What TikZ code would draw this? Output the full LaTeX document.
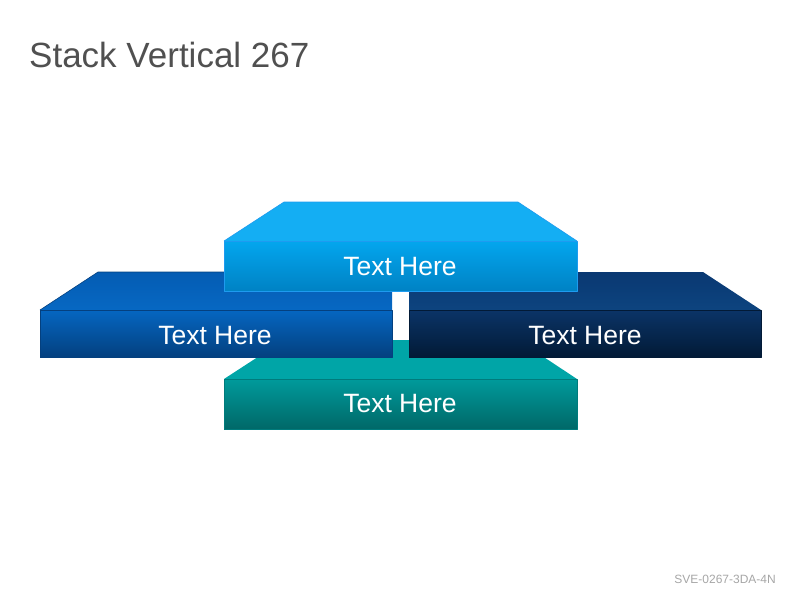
\documentclass[tikz,border=0pt]{standalone}
\usepackage{fontspec}
\setmainfont{Liberation Sans}
\usepackage{tikz}
\usetikzlibrary{positioning}

\definecolor{skytop}{HTML}{14AEF3}
\definecolor{skyhi}{HTML}{03A6EE}
\definecolor{skylo}{HTML}{0082C4}
\definecolor{skyline}{HTML}{1E9BEF}
\definecolor{bluetop}{HTML}{0668C3}
\definecolor{bluehi}{HTML}{0566C1}
\definecolor{bluelo}{HTML}{04407F}
\definecolor{bluetopback}{HTML}{055CB3}
\definecolor{navytop}{HTML}{0D447F}
\definecolor{navytopback}{HTML}{0A3872}
\definecolor{navyhi}{HTML}{0B3467}
\definecolor{navylo}{HTML}{021A36}
\definecolor{tealtop}{HTML}{00A5A7}
\definecolor{tealhi}{HTML}{009A9B}
\definecolor{teallo}{HTML}{006868}
\definecolor{titlegray}{HTML}{505050}
\definecolor{codegray}{HTML}{A6A6A6}

\tikzset{
  face/.style={draw=#1, line width=0.6pt, line join=round},
  label text/.style={text=white, font=\fontsize{26.5}{30}\selectfont, inner sep=0pt}
}

\begin{document}
\begin{tikzpicture}[x=1pt,y=-1pt]
\useasboundingbox (0,0) rectangle (800,600);

% title and code
\node[anchor=base west, text=titlegray, font=\fontsize{35}{40}\selectfont, inner sep=0pt] (title) at (29,67) {Stack Vertical 267};
\node[anchor=base east, text=codegray, font=\fontsize{12}{14}\selectfont, inner sep=0pt] (code) at (776,583) {SVE-0267-3DA-4N};

% bottom block
\fill[tealtop] (284,340) -- (518,340) -- (577,379) -- (224,379) -- cycle;
\shade[top color=tealhi, bottom color=teallo] (224,379) rectangle (577,429);
\draw[face=tealhi!80!black] (224,379) rectangle (577,429);
\node[label text] (bottomtext) at (400,404) {Text Here};

% left block
\shade[top color=bluetopback, bottom color=bluetop] (98,272) -- (392,272) -- (392,310) -- (40,310) -- cycle;
\shade[top color=bluehi, bottom color=bluelo] (40,310) rectangle (392,357);
\draw[face=bluelo] (40,310) rectangle (392,357);
\draw[face=bluelo] (40,310) -- (98,272) -- (392,272);
\node[label text] (lefttext) at (215,336) {Text Here};

% right block
\shade[top color=navytopback, bottom color=navytop] (409,272) -- (703,272) -- (761,310) -- (409,310) -- cycle;
\shade[top color=navyhi, bottom color=navylo] (409,310) rectangle (761,357);
\draw[face=navylo] (409,310) rectangle (761,357);
\node[label text] (righttext) at (585,336) {Text Here};

% top block
\fill[skytop] (284,202) -- (518,202) -- (577,241) -- (224,241) -- cycle;
\shade[top color=skyhi, bottom color=skylo] (224,241) rectangle (577,291);
\draw[face=skyline] (224,241) rectangle (577,291);
\draw[face=skyline] (224,241) -- (284,202) -- (518,202) -- (577,241);
\node[label text] (toptext) at (400,267) {Text Here};
\end{tikzpicture}
\end{document}
